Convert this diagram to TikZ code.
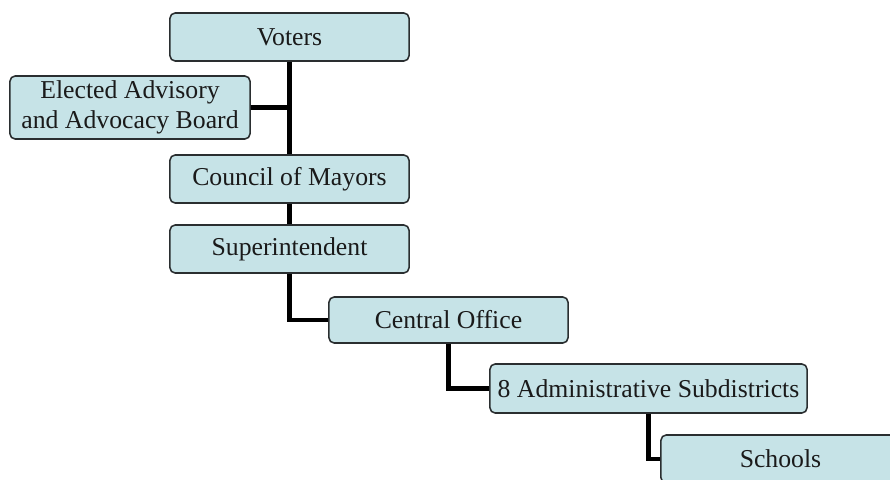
\documentclass[tikz,border=0pt]{standalone}
\usepackage{fontspec}
\setmainfont{Liberation Serif}
\usetikzlibrary{positioning}

\definecolor{boxfill}{RGB}{198,227,231}
\definecolor{boxline}{RGB}{42,46,48}
\definecolor{inktext}{RGB}{26,26,26}

\tikzset{
  orgbox/.style={draw=boxline, fill=boxfill, line width=1.1pt,
    rounded corners=0.13cm, align=center, inner sep=0pt,
    minimum width=5.975cm, minimum height=1.2cm, text=inktext,
    font=\fontsize{18.3}{21.5}\selectfont},
  link/.style={line width=3.1pt, black}
}

\begin{document}
\begin{tikzpicture}[x=0.025cm,y=-0.025cm]
\useasboundingbox (0,0) rectangle (890,480);
\clip (0,0) rectangle (890,480);

% chain of command
\node[orgbox] (voters) at (289.5,37) {Voters};
\node[orgbox, minimum width=6cm, minimum height=1.575cm] (board) at (130,107.5) {Elected Advisory\\and Advocacy Board};
\node[orgbox] (mayors) at (289.5,179) {Council of Mayors};
\node[orgbox] (super) at (289.5,249) {Superintendent};
\node[orgbox, minimum height=1.15cm] (office) at (448.5,320) {Central Office};
\node[orgbox, minimum width=7.925cm, minimum height=1.225cm] (subdist) at (648.5,388.5) {8 Administrative Subdistricts};
\node[orgbox] (schools) at (780.5,459) {Schools};

% connectors
\draw[link] (voters) -- (mayors);
\draw[link] (board.east) -- (board.east -| voters.south);
\draw[link] (mayors) -- (super);
\draw[link] (super.south) |- (office.west);
\draw[link] (office.south) |- (subdist.west);
\draw[link] (subdist.south) |- (schools.west);
\end{tikzpicture}
\end{document}
